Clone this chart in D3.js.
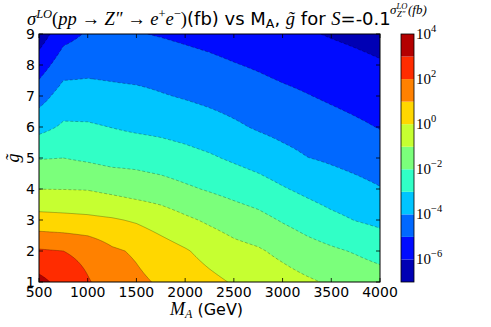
<!DOCTYPE html>
<html>
<head>
<meta charset="utf-8">
<script src="https://cdn.jsdelivr.net/npm/d3@7"></script>
<style>
body { margin: 0; background: #fff; }
text { font-family: "DejaVu Sans", sans-serif; fill: #000; }
.math { font-family: "Liberation Serif", serif; }
</style>
</head>
<body>
<div id="vis"></div>
<script>
// M_A grid (GeV) and g~ grid
var massA = [500, 750, 1000, 1250, 1500, 1750, 2000, 2250, 2500, 2750, 3000, 3250, 3500, 3750, 4000];
var gTilde = [1, 2, 3, 4, 5, 6, 7, 8, 9];

// log10(sigma / fb), one row per g~ value
var logSigmaG1 = [3.31, 2.62, 2.07, 1.60, 1.20, 0.88, 0.56, 0.24, -0.08, -0.33, -0.59, -0.86, -1.12, -1.38, -1.55];
var logSigmaG2 = [2.11, 2.00, 1.75, 1.15, 0.87, 0.45, 0.09, -0.33, -0.69, -0.89, -1.24, -1.60, -1.85, -2.08, -2.35];
var logSigmaG3 = [0.37, 0.30, 0.22, 0.10, -0.11, -0.45, -0.83, -1.15, -1.45, -1.70, -2.08, -2.42, -2.75, -3.03, -3.23];
var logSigmaG4 = [-1.01, -1.02, -1.05, -1.25, -1.46, -1.59, -1.85, -2.09, -2.33, -2.58, -2.92, -3.23, -3.51, -3.72, -3.95];
var logSigmaG5 = [-2.05, -2.00, -2.15, -2.32, -2.33, -2.49, -2.67, -2.88, -3.14, -3.40, -3.70, -3.98, -4.14, -4.32, -4.51];
var logSigmaG6 = [-3.30, -2.87, -2.88, -3.02, -3.17, -3.26, -3.41, -3.61, -3.85, -4.10, -4.30, -4.47, -4.65, -4.84, -5.04];
var logSigmaG7 = [-4.43, -3.55, -3.60, -3.70, -3.75, -3.93, -4.08, -4.24, -4.41, -4.60, -4.78, -4.96, -5.14, -5.31, -5.47];
var logSigmaG8 = [-5.50, -4.45, -4.30, -4.35, -4.45, -4.50, -4.64, -4.78, -4.95, -5.11, -5.30, -5.43, -5.60, -5.76, -5.91];
var logSigmaG9 = [-6.55, -5.35, -4.90, -4.80, -4.95, -5.06, -5.19, -5.32, -5.48, -5.67, -5.84, -5.91, -6.07, -6.20, -6.34];
var logSigma = [logSigmaG1, logSigmaG2, logSigmaG3, logSigmaG4, logSigmaG5, logSigmaG6, logSigmaG7, logSigmaG8, logSigmaG9];

// contour levels (log10) and band colours (jet, 11 bands from 1e-7 to 1e4)
var levels = [-6, -5, -4, -3, -2, -1, 0, 1, 2, 3];
var bandColors = ['#0000b4', '#000bff', '#0068ff', '#00c5ff', '#31ffc6', '#7bff7b', '#c6ff31', '#ffd700', '#ff8100', '#ff2c00', '#b40000'];
var xTicks = [500, 1000, 1500, 2000, 2500, 3000, 3500, 4000];
var yTicks = [1, 2, 3, 4, 5, 6, 7, 8, 9];
var cbTicks = [4, 2, 0, -2, -4, -6];

var svgW = 491, svgH = 327;
var svg = d3.select('#vis').append('svg').attr('width', svgW).attr('height', svgH);

var x = d3.scaleLinear().domain([500, 4000]).range([39, 380]);
var y = d3.scaleLinear().domain([1, 9]).range([282, 34]);

// resample the grid bilinearly so the filled contours come out smooth
var dM = 10, dG = 0.05;
var nx = Math.round((4000 - 500) / dM) + 1;
var ny = Math.round((9 - 1) / dG) + 1;
var fine = new Array(nx * ny);
for (var j = 0; j < ny; j++) {
    var gv = 1 + j * dG;
    var rj = Math.min(Math.floor(gv - 1), gTilde.length - 2);
    var tj = (gv - gTilde[rj]) / (gTilde[rj + 1] - gTilde[rj]);
    for (var i = 0; i < nx; i++) {
        var mv = 500 + i * dM;
        var ci = Math.min(Math.floor((mv - 500) / 250), massA.length - 2);
        var ti = (mv - massA[ci]) / (massA[ci + 1] - massA[ci]);
        var a = logSigma[rj][ci] * (1 - ti) + logSigma[rj][ci + 1] * ti;
        var b = logSigma[rj + 1][ci] * (1 - ti) + logSigma[rj + 1][ci + 1] * ti;
        fine[j * nx + i] = a * (1 - tj) + b * tj;
    }
}

var contours = d3.contours().size([nx, ny]).thresholds(levels)(fine);

var proj = d3.geoTransform({
    point: function (px, py) {
        this.stream.point(x(500 + (px - 0.5) * dM), y(1 + (py - 0.5) * dG));
    }
});
var path = d3.geoPath(proj);

svg.append('clipPath').attr('id', 'plotclip')
    .append('rect').attr('x', 39).attr('y', 34).attr('width', 341).attr('height', 248);

var plot = svg.append('g').attr('clip-path', 'url(#plotclip)');

// lowest band underneath everything
plot.append('rect').attr('x', 39).attr('y', 34).attr('width', 341).attr('height', 248)
    .style('fill', bandColors[0]);

plot.selectAll('.band').data(contours).enter().append('path').attr('class', 'band')
    .attr('d', path)
    .style('fill', function (d) { return bandColors[d.value + 7]; })
    .style('stroke', 'none');

// contour lines, dashed for negative levels like matplotlib
plot.selectAll('.cline').data(contours).enter().append('path').attr('class', 'cline')
    .attr('d', path)
    .style('fill', 'none')
    .style('stroke', 'rgba(0,0,0,0.45)')
    .style('stroke-width', 0.6)
    .style('stroke-dasharray', function (d) { return d.value < 0 ? '3,2' : null; });

// frame
svg.append('rect').attr('x', 39).attr('y', 34).attr('width', 341).attr('height', 248)
    .style('fill', 'none').style('stroke', '#000').style('stroke-width', 1);

// inner ticks
var tk = svg.append('g').style('stroke', '#000').style('stroke-width', 0.8);
xTicks.forEach(function (t) {
    tk.append('line').attr('x1', x(t)).attr('x2', x(t)).attr('y1', 282).attr('y2', 278);
    tk.append('line').attr('x1', x(t)).attr('x2', x(t)).attr('y1', 34).attr('y2', 38);
});
yTicks.forEach(function (t) {
    tk.append('line').attr('x1', 39).attr('x2', 43).attr('y1', y(t)).attr('y2', y(t));
    tk.append('line').attr('x1', 380).attr('x2', 376).attr('y1', y(t)).attr('y2', y(t));
});

// tick labels
svg.selectAll('.xLabel').data(xTicks).enter().append('text').attr('class', 'xLabel')
    .text(String).attr('x', function (d) { return x(d); }).attr('y', 297)
    .attr('text-anchor', 'middle').style('font-size', '14px');
svg.selectAll('.yLabel').data(yTicks).enter().append('text').attr('class', 'yLabel')
    .text(String).attr('x', 35).attr('y', function (d) { return y(d) + 5; })
    .attr('text-anchor', 'end').style('font-size', '14px');

// axis labels
var xl = svg.append('text').attr('x', 170).attr('y', 315).style('font-size', '16px');
xl.append('tspan').attr('class', 'math').style('font-style', 'italic').style('font-size', '18px').text('M');
xl.append('tspan').attr('class', 'math').style('font-style', 'italic').style('font-size', '12px').attr('dy', 3).text('A');
xl.append('tspan').attr('dy', -3).text(' (GeV)');

svg.append('text').attr('class', 'math').attr('transform', 'translate(19,158) rotate(-90)')
    .attr('text-anchor', 'middle').style('font-style', 'italic').style('font-size', '18px').text('g\u0303');

// colour bar
var yc = d3.scaleLinear().domain([-7, 4]).range([282, 34]);
svg.selectAll('.cb').data(bandColors).enter().append('rect').attr('class', 'cb')
    .attr('x', 401).attr('width', 13)
    .attr('y', function (d, i) { return yc(i - 6); })
    .attr('height', function (d, i) { return yc(i - 7) - yc(i - 6); })
    .style('fill', String);
svg.append('rect').attr('x', 401).attr('y', 34).attr('width', 13).attr('height', 248)
    .style('fill', 'none').style('stroke', '#000').style('stroke-width', 0.8);

var cbl = svg.selectAll('.cbLabel').data(cbTicks).enter().append('text').attr('class', 'cbLabel math')
    .attr('x', 416).attr('y', function (d) { return yc(d) + 5; }).style('font-size', '15px');
cbl.append('tspan').text('10');
cbl.append('tspan').attr('dy', -7).style('font-size', '10.5px')
    .text(function (d) { return d < 0 ? '\u2212' + (-d) : String(d); });

// title
var parts = [
    ['\u03c3', 'm', 'i', 18.5, 0],
    ['LO', 'm', 'i', 12.5, -7],
    ['(', 'm', 'n', 18.5, 7],
    ['pp', 'm', 'i', 18.5, 0],
    [' \u2192 ', 'm', 'n', 18.5, 0],
    ['Z\u2033', 'm', 'i', 18.5, 0],
    [' \u2192 ', 'm', 'n', 18.5, 0],
    ['e', 'm', 'i', 18.5, 0],
    ['+', 'm', 'n', 12.5, -7],
    ['e', 'm', 'i', 18.5, 7],
    ['\u2212', 'm', 'n', 12.5, -7],
    [')', 'm', 'n', 18.5, 7],
    ['(fb) vs M', 's', 'n', 18, 0],
    ['A', 's', 'n', 12.5, 3],
    [', ', 's', 'n', 18, -3],
    ['g\u0303', 'm', 'i', 18.5, 0],
    [' for ', 's', 'n', 18, 0],
    ['S', 'm', 'i', 18.5, 0],
    ['=-0.1', 's', 'n', 18, 0]
];
var title = svg.append('text').attr('x', 27).attr('y', 25);
parts.forEach(function (p) {
    title.append('tspan')
        .attr('class', p[1] === 'm' ? 'math' : null)
        .style('font-style', p[2] === 'i' ? 'italic' : 'normal')
        .style('font-size', p[3] + 'px')
        .attr('dy', p[4])
        .text(p[0]);
});

// colour bar label sitting above the bar, right after the title
var cbt = svg.append('text').attr('class', 'math').attr('x', 390).attr('y', 14).style('font-style', 'italic');
cbt.append('tspan').style('font-size', '13px').text('\u03c3');
cbt.append('tspan').style('font-size', '8.5px').attr('dy', -5).text('LO');
cbt.append('tspan').style('font-size', '8.5px').attr('x', 397).attr('dy', 8).text('Z\u2033');
cbt.append('tspan').style('font-size', '13px').attr('x', 408).attr('dy', -3).text('(fb)');
</script>
</body>
</html>
